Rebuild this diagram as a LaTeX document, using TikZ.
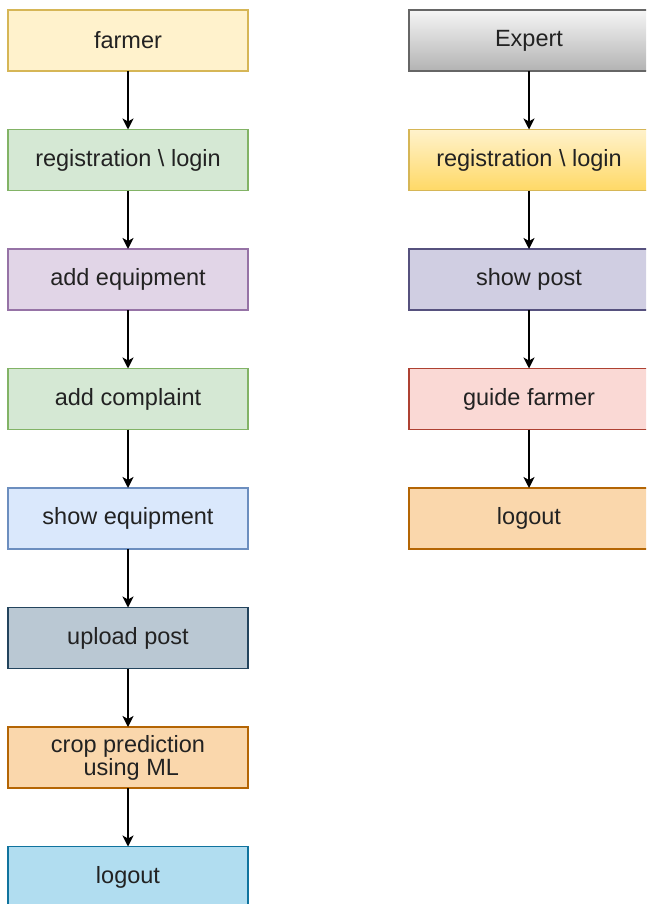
\documentclass[tikz,border=0pt]{standalone}
\usepackage{fontspec}
\setmainfont{Liberation Sans}
\usetikzlibrary{positioning,arrows.meta}

% draw.io colours
\definecolor{yelF}{HTML}{FFF2CC}\definecolor{yelS}{HTML}{D6B656}
\definecolor{yelG}{HTML}{FFD966}
\definecolor{grnF}{HTML}{D5E8D4}\definecolor{grnS}{HTML}{82B366}
\definecolor{purF}{HTML}{E1D5E7}\definecolor{purS}{HTML}{9673A6}
\definecolor{bluF}{HTML}{DAE8FC}\definecolor{bluS}{HTML}{6C8EBF}
\definecolor{slaF}{HTML}{BAC8D3}\definecolor{slaS}{HTML}{23445D}
\definecolor{orgF}{HTML}{FAD7AC}\definecolor{orgS}{HTML}{B46504}
\definecolor{cyaF}{HTML}{B1DDF0}\definecolor{cyaS}{HTML}{10739E}
\definecolor{lavF}{HTML}{D0CEE2}\definecolor{lavS}{HTML}{56517E}
\definecolor{redF}{HTML}{FAD9D5}\definecolor{redS}{HTML}{AE4132}
\definecolor{gryT}{HTML}{F5F5F5}\definecolor{gryB}{HTML}{B3B3B3}
\definecolor{gryS}{HTML}{666666}
\definecolor{txt}{HTML}{222222}

\tikzset{
  stepbox/.style={draw, line width=1.2pt, minimum width=240pt, minimum height=61pt,
    inner sep=0pt, outer sep=0pt, align=center, text=txt,
    font=\fontsize{23.5}{23}\selectfont},
  flow/.style={line width=1.8pt, -{Stealth[length=11pt,width=11pt,inset=3pt]}}
}

\begin{document}
\begin{tikzpicture}[x=1pt, y=-1pt, node distance=58.5pt]

  % Frame of the page
  \clip (0,0) rectangle (646,904);
  \fill[white] (0,0) rectangle (646,904);

  % Farmer column
  \node[stepbox, fill=yelF, draw=yelS] (farmer) at (128,40.5) {farmer};
  \node[stepbox, fill=grnF, draw=grnS, below=of farmer] (freg) {registration \textbackslash{} login};
  \node[stepbox, fill=purF, draw=purS, below=of freg] (addeq) {add equipment};
  \node[stepbox, fill=grnF, draw=grnS, below=of addeq] (addcomp) {add complaint};
  \node[stepbox, fill=bluF, draw=bluS, below=of addcomp] (showeq) {show equipment};
  \node[stepbox, fill=slaF, draw=slaS, below=of showeq] (upload) {upload post};
  \node[stepbox, fill=orgF, draw=orgS, below=of upload] (crop) {crop prediction\\ \ using ML};
  \node[stepbox, fill=cyaF, draw=cyaS, below=of crop] (flogout) {logout};

  % Expert column
  \node[stepbox, top color=gryT, bottom color=gryB, draw=gryS] (expert) at (529,40.5) {Expert};
  \node[stepbox, top color=yelF, bottom color=yelG, draw=yelS, below=of expert] (ereg) {registration \textbackslash{} login};
  \node[stepbox, fill=lavF, draw=lavS, below=of ereg] (showpost) {show post};
  \node[stepbox, fill=redF, draw=redS, below=of showpost] (guide) {guide farmer};
  \node[stepbox, fill=orgF, draw=orgS, below=of guide] (elogout) {logout};

  % Arrows
  \foreach \a/\b in {farmer/freg, freg/addeq, addeq/addcomp, addcomp/showeq,
                     showeq/upload, upload/crop, crop/flogout,
                     expert/ereg, ereg/showpost, showpost/guide, guide/elogout}
    \draw[flow] (\a) -- (\b);

\end{tikzpicture}
\end{document}
